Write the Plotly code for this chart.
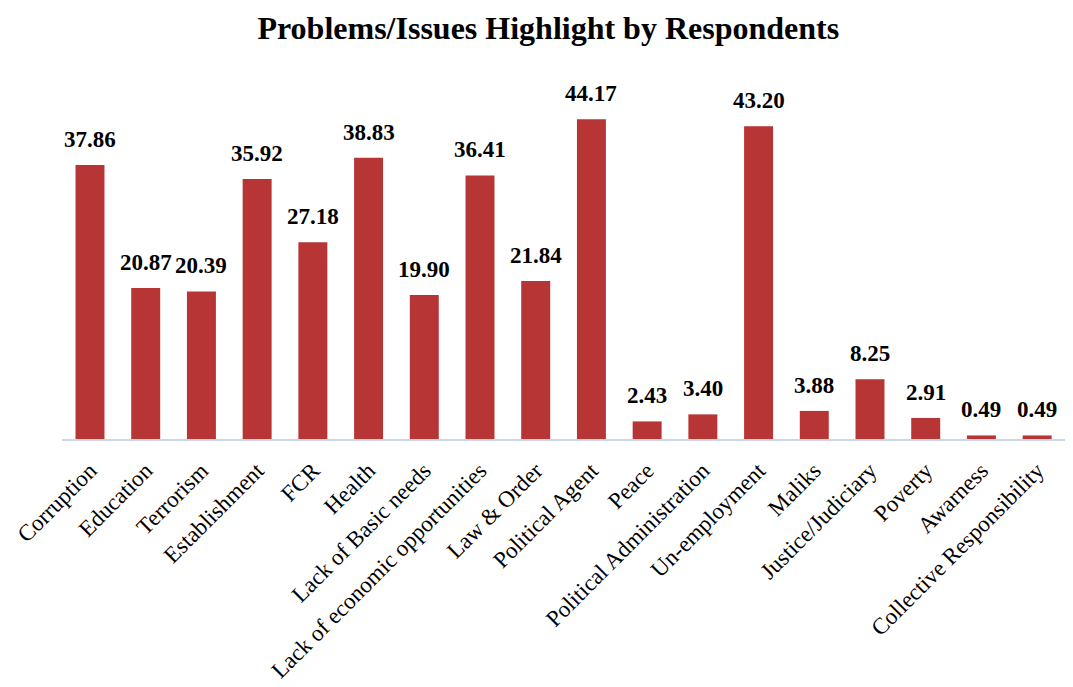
import plotly.graph_objects as go

categories = ["Corruption", "Education", "Terrorism", "Establishment", "FCR", "Health",
              "Lack of Basic needs", "Lack of economic opportunities", "Law & Order",
              "Political Agent", "Peace", "Political Administration", "Un-employment",
              "Maliks", "Justice/Judiciary", "Poverty", "Awarness", "Collective Responsibility"]
values = [37.86, 20.87, 20.39, 35.92, 27.18, 38.83, 19.90, 36.41, 21.84, 44.17,
          2.43, 3.40, 43.20, 3.88, 8.25, 2.91, 0.49, 0.49]
labels = [f"{v:.2f}" for v in values]

FONT = "Liberation Serif"

fig = go.Figure(go.Bar(
    x=categories, y=values,
    marker=dict(color="#B73535", line=dict(width=0)),
    cliponaxis=False,
))

for c, v, t in zip(categories, values, labels):
    fig.add_annotation(x=c, y=v, text=f"<b>{t}</b>", showarrow=False,
                       xanchor="center", yanchor="bottom", yshift=11,
                       font=dict(family=FONT, size=23, color="black"))

fig.update_layout(
    width=1073, height=687,
    margin=dict(l=62, r=8, t=77, b=248),
    paper_bgcolor="white", plot_bgcolor="white",
    bargap=0.48,
    showlegend=False,
    title=dict(text="<b>Problems/Issues Highlight by Respondents</b>",
               font=dict(family=FONT, size=32, color="black"),
               x=0.511, xanchor="center", y=0.96, yanchor="middle"),
    xaxis=dict(tickangle=-45, tickfont=dict(family=FONT, size=23, color="black"),
               showline=True, linecolor="#C9D5E8", linewidth=2,
               showgrid=False, ticks="", automargin=False, ticklabelstandoff=7),
    yaxis=dict(range=[0, 50], visible=False, showgrid=False, zeroline=False),
)

fig.write_html("out.html")
